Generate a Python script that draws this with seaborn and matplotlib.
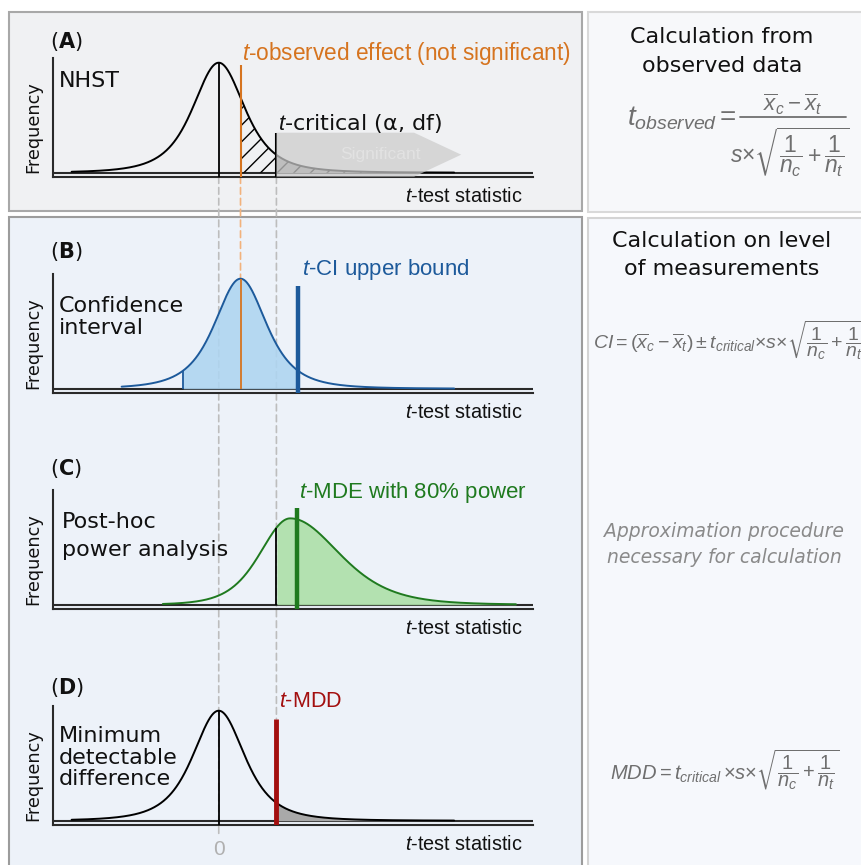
import numpy as np
import pandas as pd
import matplotlib
matplotlib.use("Agg")
import matplotlib.pyplot as plt
import seaborn as sns
from matplotlib.patches import Rectangle, Polygon, ConnectionPatch
from matplotlib.lines import Line2D

sns.set_theme(style="white")
plt.rcParams["font.family"] = ["DejaVu Sans"]
plt.rcParams["mathtext.fontset"] = "custom"
plt.rcParams["mathtext.it"] = "Liberation Sans:italic"
plt.rcParams["mathtext.rm"] = "Liberation Sans"
plt.rcParams["mathtext.bf"] = "DejaVu Sans:bold"
plt.rcParams["mathtext.fallback"] = "stixsans"
plt.rcParams["hatch.linewidth"] = 1.0

# ---------------- data ----------------
panel_letters = ["A", "B", "C", "D"]
panel_names = ["NHST", "Confidence\ninterval", "Post-hoc\npower analysis",
               "Minimum\ndetectable\ndifference"]
curve_mode = [0.0, 0.74, 2.43, 0.0]
curve_peak = [1.0, 1.0, 0.785, 1.0]
curve_scale_left = [0.93, 0.93, 1.05, 0.93]
curve_scale_right = [0.93, 0.93, 1.7, 0.93]
curve_df = [3, 3, 6, 3]
curve_start = [-5.0, -3.3, -1.9, -5.0]
curve_end = [8.0, 8.0, 10.1, 8.0]

t_zero = 0.0
t_observed = 0.74
t_critical = 1.96
ci_lower = -1.22
ci_upper = 2.70
t_mde = 2.67
t_mdd = 1.96
significant_arrow_end = 8.24

observed_line_top = 0.98
critical_line_top = 0.364
ci_line_top = 0.936
mde_line_top = 0.88
mdd_line_top = 0.925

annot_labels = [r"$\mathit{t}$-observed effect (not significant)",
                r"$\mathit{t}$-CI upper bound",
                r"$\mathit{t}$-MDE with 80% power",
                r"$\mathit{t}$-MDD"]
xlabel = r"$\mathit{t}$-test statistic"

ORANGE = "#d6741f"
BLUE = "#1d5a9b"
BLUE_FILL = "#aed5f1"
GREEN = "#1f7a1f"
GREEN_FILL = "#ade0a8"
RED = "#a30f0f"
FORM = "#6f6f6f"
AX = "#2a2a2a"

W, H = 861, 865
fig = plt.figure(figsize=(W / 100, H / 100), dpi=100)


def fx(x):
    return x / W


def fy(y):
    return 1 - y / H


def box(x0, y0, x1, y1, fc, ec, lw=1.5):
    fig.add_artist(Rectangle((fx(x0), fy(y1)), (x1 - x0) / W, (y1 - y0) / H,
                             transform=fig.transFigure, facecolor=fc,
                             edgecolor=ec, linewidth=lw, zorder=-5))


box(9, 12, 581.5, 211, "#f0f1f3", "#a8a8a8")
box(588, 12, 880, 212, "#f7f8fa", "#d9d9d9")
box(9, 217, 581.5, 890, "#edf2f9", "#9c9c9c")
box(588, 218, 880, 890, "#f6f8fc", "#d4d4d4")


def curve(i, xs):
    s = np.where(xs < curve_mode[i], curve_scale_left[i], curve_scale_right[i])
    z = (xs - curve_mode[i]) / s
    d = curve_df[i]
    return curve_peak[i] * (1 + z ** 2 / d) ** (-(d + 1) / 2)


STEP = 216.0
axes = []
for i in range(4):
    top = 58 + STEP * i
    spine = 176.7 + STEP * i
    ax = fig.add_axes([fx(52.5), fy(spine), (532.7 - 52.5) / W, (spine - top) / H])
    ax.set_facecolor("none")
    ax.set_xlim(-5.65, 10.67)
    ax.set_ylim(-0.036, (172.7 - 58) / 110)
    for side in ["top", "right"]:
        ax.spines[side].set_visible(False)
    for side in ["left", "bottom"]:
        ax.spines[side].set_color(AX)
        ax.spines[side].set_linewidth(1.5)
    ax.set_xticks([])
    ax.set_yticks([])
    ax.axhline(0, color=AX, lw=1.5, zorder=1)
    axes.append(ax)

    xs = np.linspace(curve_start[i], curve_end[i], 800)
    df = pd.DataFrame({"t": xs, "freq": curve(i, xs)})
    color = {0: "black", 1: BLUE, 2: GREEN, 3: "black"}[i]
    sns.lineplot(data=df, x="t", y="freq", ax=ax, color=color, linewidth=1.4,
                 zorder=4)
    ax.set_xlabel("")
    ax.set_ylabel("")

    fig.text(fx(33), fy(spine - 50), "Frequency", rotation=90, ha="center",
             va="center", fontsize=12.7, color="#111111")
    fig.text(fx(522), fy(spine + 25), xlabel, ha="right", va="baseline",
             fontsize=14.3, family="Liberation Sans", color="#111111")

# ---- Panel A
ax = axes[0]
xs = np.linspace(curve_start[0], curve_end[0], 800)
ys = curve(0, xs)
ax.fill_between(xs, 0, ys, where=xs >= t_critical, color="#9c9c9c", lw=0, zorder=2)
ax.fill_between(xs, 0, ys, where=xs >= t_observed, facecolor="none",
                hatch="//", edgecolor="black", lw=0, zorder=3)
ax.vlines(t_zero, -0.036, curve_peak[0], color="black", lw=1.3, zorder=5)
ax.vlines(t_observed, -0.036, observed_line_top, color=ORANGE, lw=1.5, zorder=5)
ax.vlines(t_critical, -0.036, critical_line_top, color="black", lw=1.5, zorder=5)
head = 1.6
arrow = Polygon([[t_critical, critical_line_top], [significant_arrow_end - head, critical_line_top],
                 [significant_arrow_end, critical_line_top / 2 - 0.018],
                 [significant_arrow_end - head, -0.036], [t_critical, -0.036]],
                closed=True, facecolor="#cccccc", edgecolor="none", alpha=0.72, zorder=6)
ax.add_patch(arrow)
ax.text((t_critical + significant_arrow_end) / 2 + 0.4, critical_line_top / 2 - 0.02,
        "Significant", ha="center", va="center", fontsize=12.5,
        family="Liberation Sans", color="#e2e2e2", zorder=7)

# ---- Panel B
ax = axes[1]
xs = np.linspace(curve_start[1], curve_end[1], 800)
ys = curve(1, xs)
ax.fill_between(xs, 0, ys, where=(xs >= ci_lower) & (xs <= ci_upper), color=BLUE_FILL,
                alpha=0.88, lw=0, zorder=2)
ax.vlines(ci_lower, 0, curve(1, np.array([ci_lower]))[0], color=BLUE, lw=1.3, zorder=5)
ax.vlines(t_observed, 0, curve_peak[1], color=ORANGE, lw=1.3, zorder=5)
ax.vlines(ci_upper, -0.036, ci_line_top, color=BLUE, lw=3.2, zorder=5)

# ---- Panel C
ax = axes[2]
xs = np.linspace(curve_start[2], curve_end[2], 800)
ys = curve(2, xs)
ax.fill_between(xs, 0, ys, where=xs >= t_critical, color=GREEN_FILL, alpha=0.9,
                lw=0, zorder=2)
ax.vlines(t_critical, 0, curve(2, np.array([t_critical]))[0], color="black", lw=1.3, zorder=5)
ax.vlines(t_mde, -0.036, mde_line_top, color=GREEN, lw=3.2, zorder=5)

# ---- Panel D
ax = axes[3]
xs = np.linspace(curve_start[3], curve_end[3], 800)
ys = curve(3, xs)
ax.fill_between(xs, 0, ys, where=xs >= t_mdd, color="#a9a9a9", lw=0, zorder=2)
ax.vlines(t_zero, -0.036, curve_peak[3], color="black", lw=1.3, zorder=5)
ax.vlines(t_mdd, -0.036, mdd_line_top, color=RED, lw=3.5, zorder=5)
ax.text(t_zero, -0.26, "0", ha="center", va="center", fontsize=15,
        color="#b0b0b0", family="Liberation Sans")

# ---- dashed guide lines (behind the panels' marks)
dash = dict(linestyle=(0, (4, 2.5)), linewidth=1.2, zorder=-1)
fig.add_artist(ConnectionPatch(xyA=(t_zero, -0.036), coordsA=axes[0].transData,
                               xyB=(t_zero, -0.15), coordsB=axes[3].transData,
                               color="#bdbdbd", **dash))
fig.add_artist(ConnectionPatch(xyA=(t_critical, -0.036), coordsA=axes[0].transData,
                               xyB=(t_mdd, mdd_line_top), coordsB=axes[3].transData,
                               color="#bdbdbd", **dash))
fig.add_artist(ConnectionPatch(xyA=(t_observed, -0.036), coordsA=axes[0].transData,
                               xyB=(t_observed, curve_peak[1]), coordsB=axes[1].transData,
                               color="#f2b27c", **dash))

# ---- panel texts
letter_base = [48, 258, 475, 694]
name_base = [87, 312, 528, 742]
name_gap = [22, 22, 28, 21.5]
for i in range(4):
    fig.text(fx(50), fy(letter_base[i]), r"($\mathbf{%s}$)" % panel_letters[i],
             fontsize=15, va="baseline", ha="left", color="#111111")
    for j, line in enumerate(panel_names[i].split("\n")):
        fig.text(fx(59 if i != 2 else 62), fy(name_base[i] + j * name_gap[i]), line,
                 fontsize=16, va="baseline", ha="left", color="#111111")

fig.text(fx(242), fy(60), annot_labels[0], color=ORANGE, fontsize=16.3,
         family="Liberation Sans", va="baseline")
fig.text(fx(278), fy(130), r"$\mathit{t}$-critical (α, df)", color="#111111",
         fontsize=16, va="baseline")
fig.text(fx(302), fy(275.5), annot_labels[1], color=BLUE, fontsize=16,
         family="Liberation Sans", va="baseline")
fig.text(fx(299), fy(498), annot_labels[2], color=GREEN, fontsize=16,
         family="Liberation Sans", va="baseline")
fig.text(fx(279), fy(707), annot_labels[3], color=RED, fontsize=15.5,
         family="Liberation Sans", va="baseline")

# ---- right column
fig.text(fx(722), fy(43), "Calculation from", ha="center", va="baseline", fontsize=16,
         color="#111111")
fig.text(fx(722), fy(72), "observed data", ha="center", va="baseline", fontsize=16,
         color="#111111")
fig.text(fx(722), fy(247), "Calculation on level", ha="center", va="baseline",
         fontsize=16, color="#111111")
fig.text(fx(722), fy(275), "of measurements", ha="center", va="baseline", fontsize=16,
         color="#111111")

# t observed formula (built from parts so that sizes match)
fig.text(fx(737), fy(126), r"$t_{observed} =$", ha="right", va="baseline",
         fontsize=20, color=FORM)
fig.add_artist(Line2D([fx(740), fx(846)], [fy(117), fy(117)], color=FORM, lw=1.3,
                      transform=fig.transFigure))
fig.text(fx(793), fy(104), r"$\overline{x}_c - \overline{x}_t$", ha="center",
         va="center", fontsize=16, color=FORM)
fig.text(fx(790), fy(152), r"$s{\times}\sqrt{\dfrac{1}{n_c}+\dfrac{1}{n_t}}$",
         ha="center", va="center", fontsize=16.5, color=FORM)

fig.text(fx(593), fy(340),
         r"$CI = (\overline{x}_c - \overline{x}_t) \pm t_{critical}{\times}s{\times}\sqrt{\dfrac{1}{n_c}+\dfrac{1}{n_t}}$",
         ha="left", va="center", fontsize=14, color=FORM)
fig.text(fx(724), fy(537), "Approximation procedure", ha="center", va="baseline",
         fontsize=13.5, style="italic", color="#8a8a8a")
fig.text(fx(724), fy(563), "necessary for calculation", ha="center", va="baseline",
         fontsize=13.5, style="italic", color="#8a8a8a")
fig.text(fx(725), fy(770),
         r"$MDD = t_{critical}\,{\times}s{\times}\sqrt{\dfrac{1}{n_c}+\dfrac{1}{n_t}}$",
         ha="center", va="center", fontsize=14.5, color=FORM)

fig.savefig("out.png", dpi=100)
